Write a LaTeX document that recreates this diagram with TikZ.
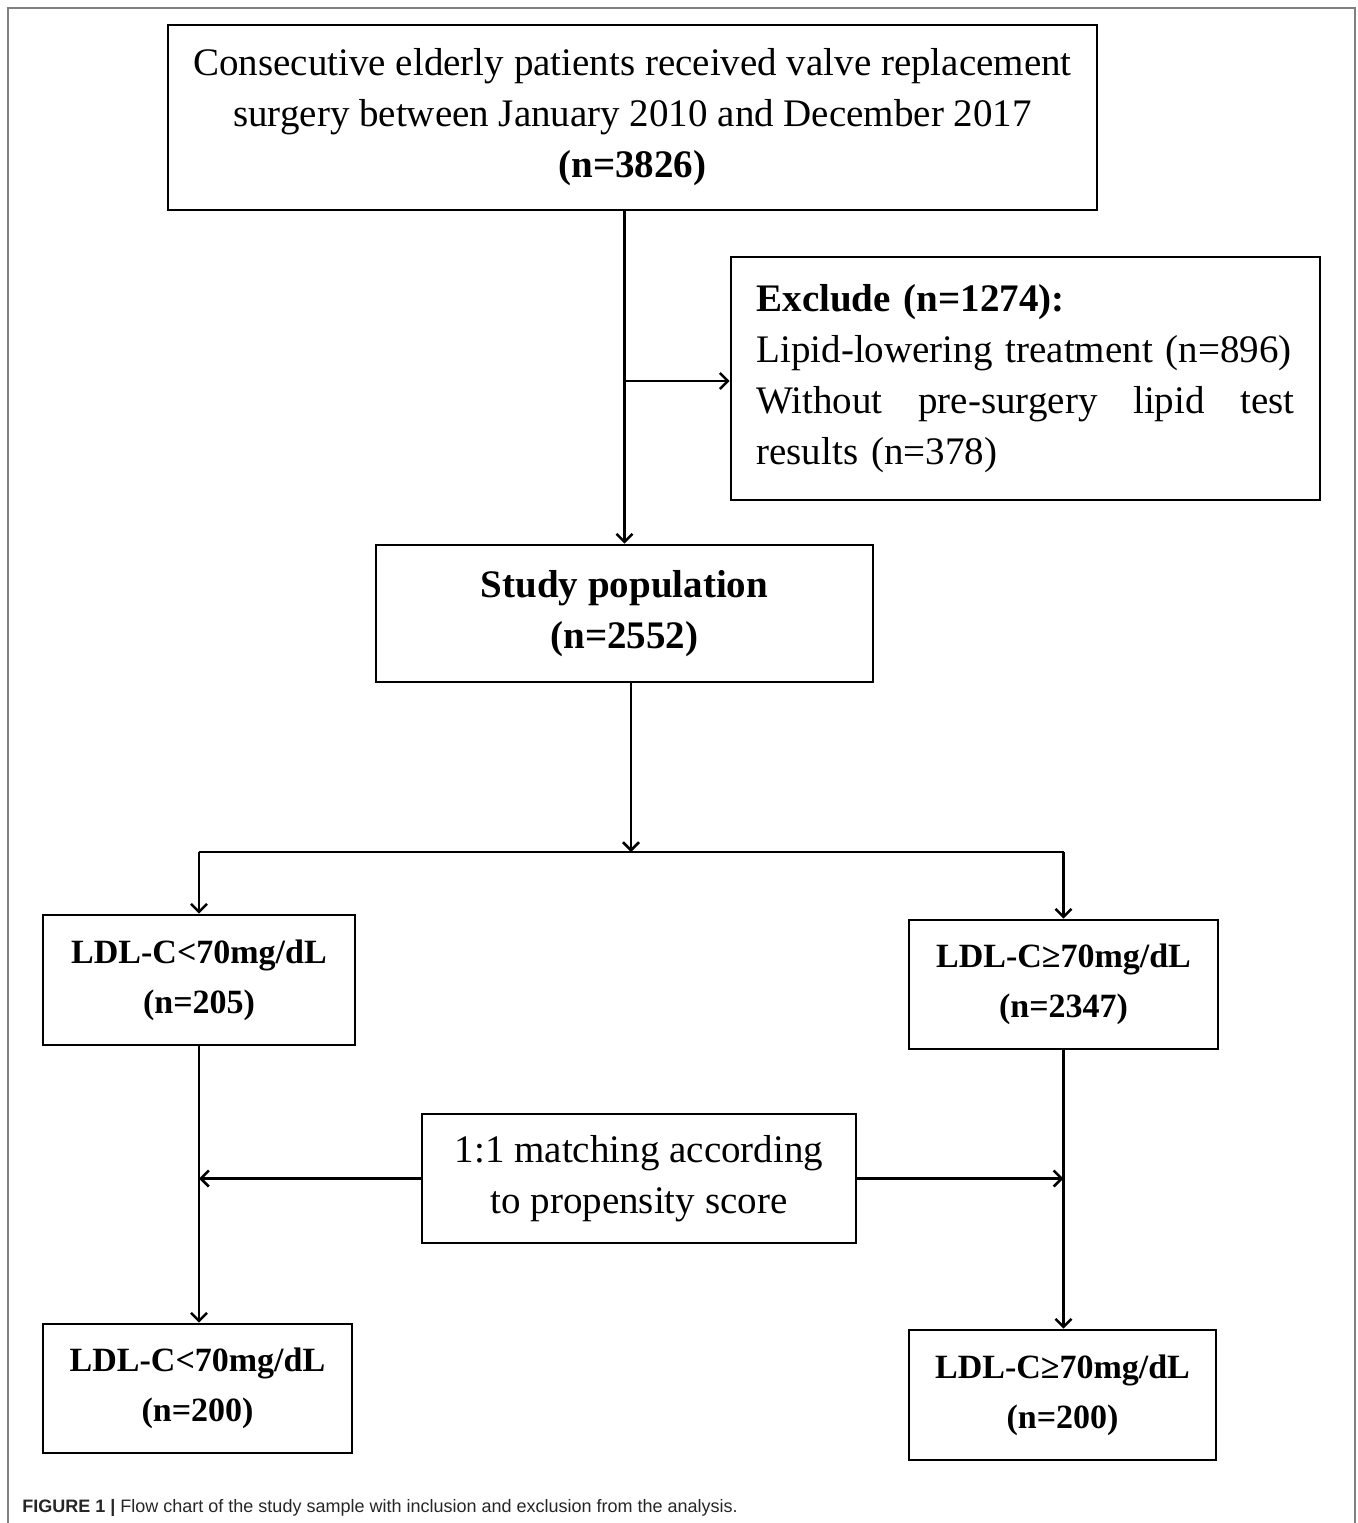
\documentclass[tikz,border=0pt]{standalone}
\usepackage{fontspec}
\setmainfont{Liberation Serif}
\newfontfamily\capfont{Liberation Sans}
\usetikzlibrary{arrows.meta}
\tikzset{
  box/.style={draw, line width=1.3pt, rectangle, inner sep=0pt, align=center},
  big/.style={font=\fontsize{19.5pt}{25.5pt}\selectfont},
  small/.style={font=\fontsize{17pt}{25pt}\selectfont\bfseries},
  arr/.style={line width=1.1pt, -{Straight Barb[length=4pt,width=8pt,line width=1.3pt]}},
  ln/.style={line width=1.1pt},
  frame/.style={draw=black!50, line width=0.8pt}
}
\begin{document}
\begin{tikzpicture}[x=0.5pt,y=-0.5pt]
\path[use as bounding box] (0,0) rectangle (1358,1523);
\draw[frame] (8,1523) -- (8,8) -- (1355,8) -- (1355,1523);

\node[box,big,minimum width=464.5pt,minimum height=92.5pt] (top) at (632.5,117.5)
  {Consecutive elderly patients received valve replacement\\surgery between January 2010 and December 2017\\\textbf{(n=3826)}};
\node[box,big,minimum width=294.5pt,minimum height=121.5pt,text width=269pt,align=left,inner xsep=12.75pt] (excl) at (1025.5,378.5)
  {\textbf{Exclude (n=1274):}\\Lipid-lowering treatment (n=896)\\Without\hfill pre-surgery\hfill lipid\hfill test\\results (n=378)};
\node[box,big,font=\fontsize{19.5pt}{25.5pt}\selectfont\bfseries,minimum width=248.5pt,minimum height=68.5pt] (pop) at (624.5,613.5)
  {Study population\\(n=2552)};
\node[box,small,minimum width=156pt,minimum height=65pt] (lo) at (199,980) {LDL-C<70mg/dL\\(n=205)};
\node[box,small,minimum width=154.5pt,minimum height=64.5pt] (hi) at (1063.5,984.5) {LDL-C≥70mg/dL\\(n=2347)};
\node[box,big,minimum width=217pt,minimum height=64.5pt] (match) at (639,1178.5) {1:1 matching according\\to propensity score};
\node[box,small,minimum width=154.5pt,minimum height=64.5pt] (lo2) at (197.5,1388.5) {LDL-C<70mg/dL\\(n=200)};
\node[box,small,minimum width=153.5pt,minimum height=65pt] (hi2) at (1062.5,1395) {LDL-C≥70mg/dL\\(n=200)};

\coordinate (b1) at (625,381);
\coordinate (split) at (631,852);
\draw[arr] (top.south -| pop.north) -- (pop.north);
\draw[arr] (b1) -- (b1 -| excl.west);
\draw[arr] (pop.south -| split) -- (split);
\draw[ln] (lo.north |- split) -- (hi.north |- split);
\draw[arr] (lo.north |- split) -- (lo.north);
\draw[arr] (hi.north |- split) -- (hi.north);
\draw[arr] (lo.south) -- (lo.south |- lo2.north);
\draw[arr] (hi.south) -- (hi.south |- hi2.north);
\draw[arr] (match.west) -- (match.west -| lo.south);
\draw[arr] (match.east) -- (match.east -| hi.south);

\node[anchor=west,inner sep=0pt,text=black!85,font=\capfont\fontsize{9pt}{11pt}\selectfont] (cap) at (22,1508)
  {\textbf{FIGURE 1 |} Flow chart of the study sample with inclusion and exclusion from the analysis.};
\end{tikzpicture}
\end{document}
